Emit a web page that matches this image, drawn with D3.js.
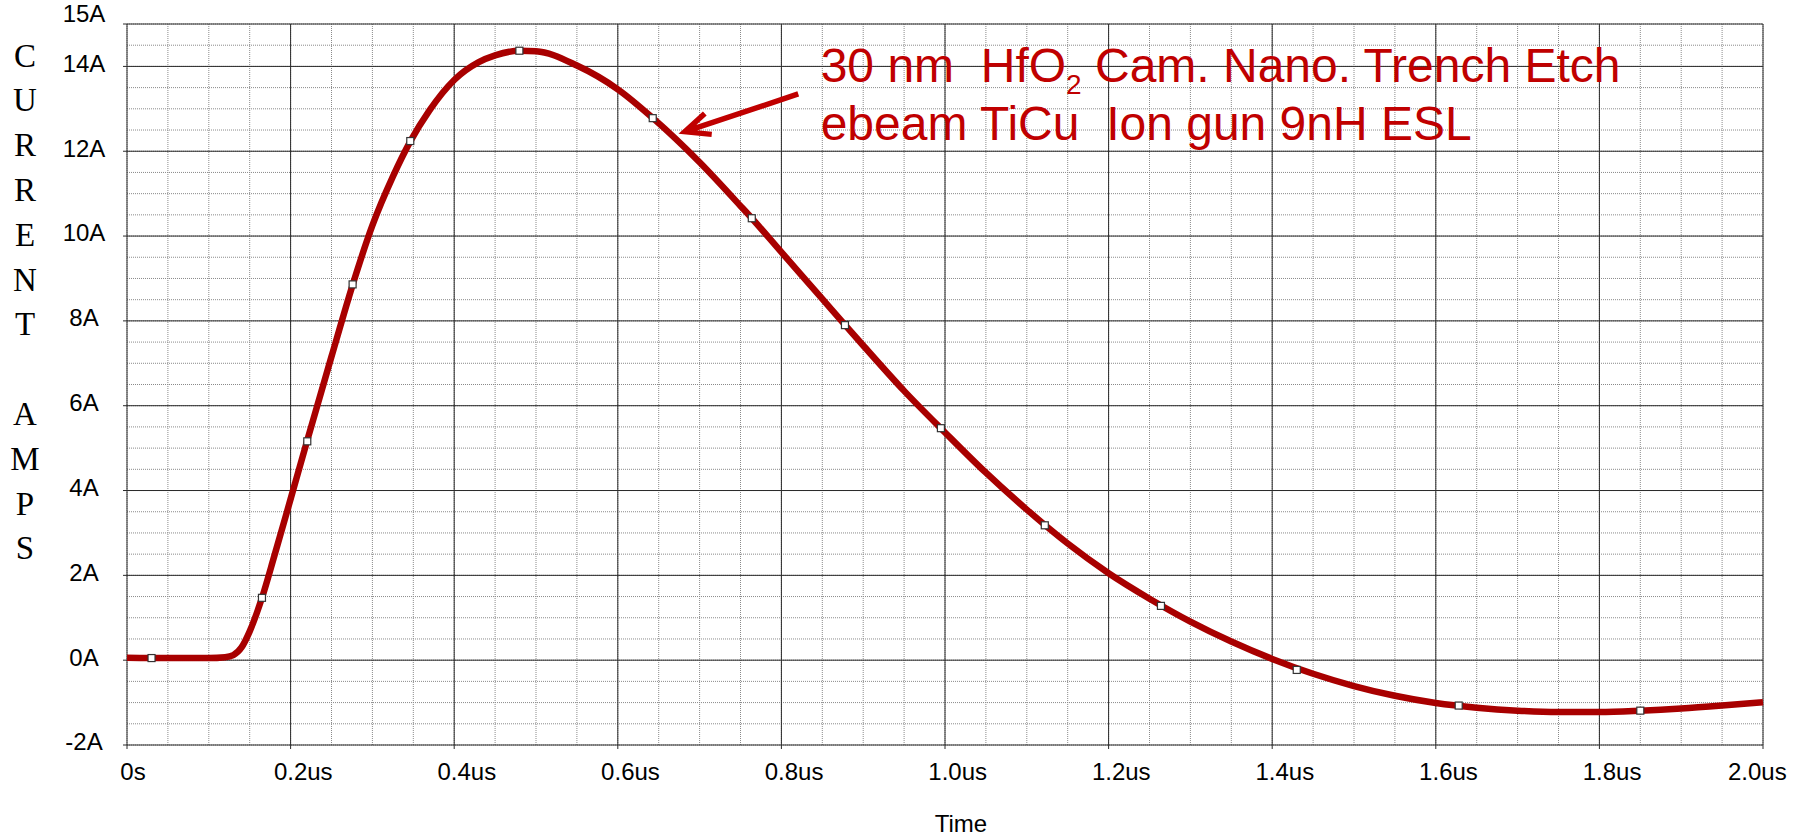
<!DOCTYPE html>
<html lang="en">
<head>
  <meta charset="UTF-8">
  <style>
    body { margin: 0; overflow: hidden; background: #fff; }
    svg { display: block; }
    .tick-label { font-family: "Liberation Sans", Arial, sans-serif; font-size: 24px; fill: #000; }
    .letter { font-family: "Liberation Serif", "Times New Roman", serif; font-size: 33px; fill: #000; }
    .note { font-family: "Liberation Sans", Arial, sans-serif; font-size: 48px; fill: #c00000; white-space: pre; }
  </style>
  <script src="https://d3js.org/d3.v7.min.js"></script>
</head>
<body>
<svg id="chart"></svg>
<script>
  // waveform (time in us, current in A)
  const times = [0.00, 0.05, 0.10, 0.12, 0.13, 0.14, 0.15, 0.165, 0.18, 0.20, 0.22, 0.25, 0.276, 0.30, 0.325,
    0.346, 0.37, 0.40, 0.43, 0.45, 0.48, 0.50, 0.55, 0.60, 0.643, 0.70, 0.75, 0.7638, 0.80, 0.85, 0.878, 0.90, 0.95,
    1.00, 1.05, 1.10, 1.15, 1.20, 1.25, 1.30, 1.35, 1.40, 1.45, 1.50, 1.55, 1.60, 1.65, 1.70, 1.75, 1.80,
    1.85, 1.90, 1.95, 2.00];
  const amps = [0.06, 0.05, 0.05, 0.07, 0.12, 0.30, 0.68, 1.47, 2.45, 3.80, 5.16, 7.16, 8.86, 10.25, 11.40,
    12.22, 12.97, 13.68, 14.10, 14.26, 14.37, 14.36, 14.02, 13.46, 12.78, 11.74, 10.71, 10.42, 9.62, 8.52, 7.90, 7.42, 6.35,
    5.37, 4.42, 3.55, 2.75, 2.05, 1.45, 0.91, 0.44, 0.03, -0.32, -0.61, -0.84, -1.01, -1.12, -1.19, -1.22, -1.22,
    -1.19, -1.14, -1.07, -0.99];

  const markerTimes = [0.03, 0.165, 0.2204, 0.2758, 0.3463, 0.4797, 0.6427, 0.7638, 0.8777, 0.995, 1.122, 1.264, 1.430, 1.628, 1.85];
  const markerAmps = [0.05, 1.47, 5.16, 8.86, 12.24, 14.37, 12.78, 10.42, 7.90, 5.47, 3.18, 1.28, -0.23, -1.07, -1.19];

  const xTicks = [0, 0.2, 0.4, 0.6, 0.8, 1.0, 1.2, 1.4, 1.6, 1.8, 2.0];
  const xTickLabels = ["0s", "0.2us", "0.4us", "0.6us", "0.8us", "1.0us", "1.2us", "1.4us", "1.6us", "1.8us", "2.0us"];
  const yTicks = [-2, 0, 2, 4, 6, 8, 10, 12, 14, 15];
  const yTickLabels = ["-2A", "0A", "2A", "4A", "6A", "8A", "10A", "12A", "14A", "15A"];
  const yLetters = ["C", "U", "R", "R", "E", "N", "T", "", "A", "M", "P", "S"];
  const noteLines = ["30 nm  HfO", " Cam. Nano. Trench Etch", "ebeam TiCu  Ion gun 9nH ESL"];

  const W = 1810, H = 837;
  const svg = d3.select("#chart").attr("width", W).attr("height", H);

  const x = d3.scaleLinear().domain([0, 2]).range([127, 1763]);
  const y = d3.scaleLinear().domain([-2, 15]).range([745, 24]);

  // minor grid (dotted)
  const g = svg.append("g");
  g.selectAll(".vmin").data(d3.range(0, 2.0001, 0.05)).join("line")
    .attr("x1", d => x(d)).attr("x2", d => x(d)).attr("y1", y(15)).attr("y2", y(-2))
    .attr("stroke", "#8a8a8a").attr("stroke-dasharray", "1,1");
  g.selectAll(".hmin").data(d3.range(-2, 15.0001, 0.5)).join("line")
    .attr("x1", x(0)).attr("x2", x(2)).attr("y1", d => y(d)).attr("y2", d => y(d))
    .attr("stroke", "#8a8a8a").attr("stroke-dasharray", "1,1");

  // major grid
  g.selectAll(".vmaj").data(xTicks).join("line")
    .attr("x1", d => x(d)).attr("x2", d => x(d)).attr("y1", y(15)).attr("y2", y(-2) + 4)
    .attr("stroke", "#2a2a2a");
  g.selectAll(".hmaj").data(yTicks).join("line")
    .attr("x1", x(0) - 4).attr("x2", x(2)).attr("y1", d => y(d)).attr("y2", d => y(d))
    .attr("stroke", "#2a2a2a");

  // y tick labels, centred like the original
  svg.selectAll(".ylab").data(yTicks).join("text")
    .attr("class", "tick-label")
    .attr("x", 84)
    .attr("y", d => d === 15 ? y(d) - 10 : y(d) - 3)
    .attr("dy", "0.35em")
    .attr("text-anchor", "middle")
    .text((d, i) => yTickLabels[i]);

  // x tick labels: numeric part centred on tick
  const measure = svg.append("text").attr("class", "tick-label").attr("visibility", "hidden");
  svg.selectAll(".xlab").data(xTicks).join("text")
    .attr("class", "tick-label")
    .attr("y", 780)
    .text((d, i) => xTickLabels[i])
    .attr("x", (d, i) => {
      if (i === xTicks.length - 1) return x(d) - 35;
      const num = xTickLabels[i].replace(/[a-z]+$/, "");
      measure.text(num);
      return x(d) - measure.node().getComputedTextLength() / 2;
    });
  measure.remove();

  svg.append("text").attr("class", "tick-label")
    .attr("x", 961).attr("y", 832).attr("text-anchor", "middle").text("Time");

  // vertical "CURRENT AMPS"
  svg.selectAll(".letter").data(yLetters).join("text")
    .attr("class", "letter")
    .attr("x", 25)
    .attr("y", (d, i) => 55 + i * 44.8)
    .attr("dy", "0.35em")
    .attr("text-anchor", "middle")
    .text(d => d);

  // waveform
  const line = d3.line().x((d, i) => x(times[i])).y(d => y(d)).curve(d3.curveMonotoneX);
  svg.append("path").datum(amps)
    .attr("d", line)
    .attr("fill", "none")
    .attr("stroke", "#a80000")
    .attr("stroke-width", 6.5)
    .attr("stroke-linejoin", "round");

  svg.selectAll(".marker").data(markerTimes).join("rect")
    .attr("x", d => x(d) - 3.5).attr("y", (d, i) => y(markerAmps[i]) - 3.5)
    .attr("width", 7).attr("height", 7)
    .attr("fill", "#fff").attr("stroke", "#333").attr("stroke-width", 1.2);

  // annotation
  const t1 = svg.append("text").attr("class", "note").attr("x", x(0.848)).attr("y", y(13.64));
  t1.append("tspan").text(noteLines[0]);
  t1.append("tspan").attr("font-size", 28).attr("dy", 12).text("2");
  t1.append("tspan").attr("dy", -12).text(noteLines[1]);
  svg.append("text").attr("class", "note").attr("x", x(0.848)).attr("y", y(12.27)).text(noteLines[2]);

  const tip = [x(0.682), y(12.46)], tail = [x(0.8206), y(13.35)];
  const ang = Math.atan2(tail[1] - tip[1], tail[0] - tip[0]);
  const barb = 27, spread = 0.42;
  const arrow = d3.path();
  arrow.moveTo(tail[0], tail[1]); arrow.lineTo(tip[0], tip[1]);
  arrow.moveTo(tip[0] + barb * Math.cos(ang - spread), tip[1] + barb * Math.sin(ang - spread));
  arrow.lineTo(tip[0], tip[1]);
  arrow.lineTo(tip[0] + barb * Math.cos(ang + spread), tip[1] + barb * Math.sin(ang + spread));
  svg.append("path").attr("d", arrow.toString())
    .attr("fill", "none").attr("stroke", "#c00000").attr("stroke-width", 5.5)
    .attr("stroke-linejoin", "miter");
</script>
</body>
</html>
